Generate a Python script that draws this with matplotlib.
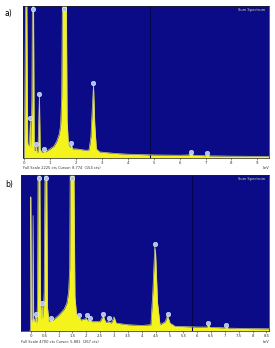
import numpy as np
import matplotlib
matplotlib.use("Agg")
import matplotlib.pyplot as plt

# Spectrum a): energy (keV) vs. counts (% of full scale)
energy_a = [0.0, 0.03, 0.05, 0.09, 0.13, 0.17, 0.2, 0.23, 0.26, 0.29, 0.31, 0.35, 0.38,
            0.41, 0.43, 0.45, 0.48, 0.52, 0.55, 0.58, 0.61, 0.66, 0.74, 0.77, 0.81,
            0.9, 1.0, 1.15, 1.25, 1.35, 1.40, 1.44, 1.47, 1.62, 1.65, 1.70, 1.76, 1.8,
            1.86, 2.0, 2.2, 2.4, 2.5, 2.57, 2.62, 2.67, 2.72, 2.78, 2.9, 3.5, 4.0, 5.0,
            6.0, 6.35, 6.43, 6.52, 7.0, 7.07, 7.15, 8.0, 9.46]
counts_a = [0, 70, 110, 110, 9, 8, 12, 25, 7, 40, 110, 110, 5,
            5, 7, 9, 4, 4, 22, 42, 6, 4, 4, 6, 4,
            5, 6, 8, 11, 16, 22, 40, 110, 110, 25, 9, 7, 10,
            6, 6, 5.5, 5, 5.5, 14, 32, 48, 22, 6, 4, 3, 2.5, 2,
            1.8, 2, 3.5, 1.8, 1.5, 2.3, 1.4, 1.2, 1]
labels_a_x = [0.23, 0.33, 0.45, 0.58, 0.77, 1.54, 1.8, 2.67, 6.43, 7.07]
labels_a_y = [26, 98, 9, 42, 6, 98, 10, 49, 4, 3]

# Spectrum b)
energy_b = [-0.05, -0.02, -0.01, 0.0, 0.02, 0.06, 0.08, 0.10, 0.14, 0.18, 0.21, 0.24,
            0.26, 0.32, 0.35, 0.38, 0.41, 0.44, 0.48, 0.51, 0.57, 0.60, 0.65, 0.71,
            0.8, 1.0, 1.2, 1.3, 1.36, 1.40, 1.42, 1.55, 1.59, 1.65, 1.73, 1.8, 2.0,
            2.05, 2.13, 2.2, 2.5, 2.61, 2.7, 2.81, 2.9, 3.0, 3.08, 3.5, 4.0, 4.33,
            4.40, 4.47, 4.50, 4.57, 4.66, 4.85, 4.93, 5.02, 5.2, 6.0, 6.35, 6.4, 6.47,
            7.0, 7.05, 7.12, 8.0, 8.6]
counts_b = [0, 0, 86, 86, 8, 6, 74, 8, 6, 11, 5, 20,
            110, 110, 20, 8, 17, 8, 25, 110, 110, 15, 6, 7,
            7, 10, 14, 18, 25, 40, 110, 110, 22, 10, 10, 7, 8,
            6.5, 7, 6, 6, 10, 5.5, 6, 5, 9, 5, 4, 3.5, 4,
            25, 54, 50, 18, 4, 6, 10, 5, 3, 2.5, 2.5, 4, 2.3,
            2, 2.6, 1.8, 1.5, 1.4]
labels_b_x = [0.18, 0.29, 0.41, 0.54, 0.71, 1.48, 1.73, 2.01, 2.13, 2.61, 2.81, 4.48, 4.93, 6.4, 7.05]
labels_b_y = [11, 98, 18, 98, 8, 98, 10, 10, 8, 11, 8, 56, 11, 5, 4]

BG = "#0b0b88"
YEL = "#f4f41c"
MARK = "#a8c4f0"

fig = plt.figure(figsize=(2.75, 3.48), dpi=100)
fig.patch.set_facecolor("white")


def draw(rect, x, y, lx, ly, xlim, step, cursor, footer, tag, tag_y):
    ax = fig.add_axes(rect)
    ax.set_facecolor(BG)
    ax.axvline(cursor, color="#040450", linewidth=0.8)
    ax.fill_between(x, 0, y, color=YEL, linewidth=0)
    ax.plot(x, y, color="#d0d080", linewidth=0.5)
    ax.scatter(lx, ly, s=11, marker="o", color=MARK, edgecolors="white",
               linewidths=0.3, zorder=5, clip_on=False)
    ax.set_xlim(*xlim)
    ax.set_ylim(0, 100)
    ax.set_yticks([])
    ticks = np.arange(0, xlim[1] + 0.01, step)
    ax.set_xticks(ticks)
    ax.set_xticklabels([("%g" % t) for t in ticks])
    ax.tick_params(axis="x", labelsize=2.8, length=1.5, width=0.4, pad=0.5,
                   colors="#333333")
    for s in ax.spines.values():
        s.set_linewidth(0.5)
        s.set_color("#222222")
    ax.text(0.985, 0.985, "Sum Spectrum", transform=ax.transAxes, ha="right",
            va="top", fontsize=2.6, color="#c8e890")
    ax.text(0.0, -0.055, footer, transform=ax.transAxes, ha="left", va="top",
            fontsize=2.6, color="#333333")
    ax.text(1.0, -0.055, "keV", transform=ax.transAxes, ha="right", va="top",
            fontsize=2.6, color="#333333")
    fig.text(0.018, tag_y, tag, fontsize=5.5, ha="left", va="center")
    return ax


draw([0.084, 0.546, 0.895, 0.437], energy_a, counts_a, labels_a_x, labels_a_y,
     (-0.05, 9.46), 1, 4.85, "Full Scale 2225 cts Cursor: 8.774  (154 cts)", "a)", 0.962)
draw([0.076, 0.049, 0.903, 0.448], energy_b, counts_b, labels_b_x, labels_b_y,
     (-0.36, 8.6), 0.5, 5.8, "Full Scale 4700 cts Cursor: 5.881  (267 cts)", "b)", 0.47)

fig.savefig("out.png", dpi=100)
